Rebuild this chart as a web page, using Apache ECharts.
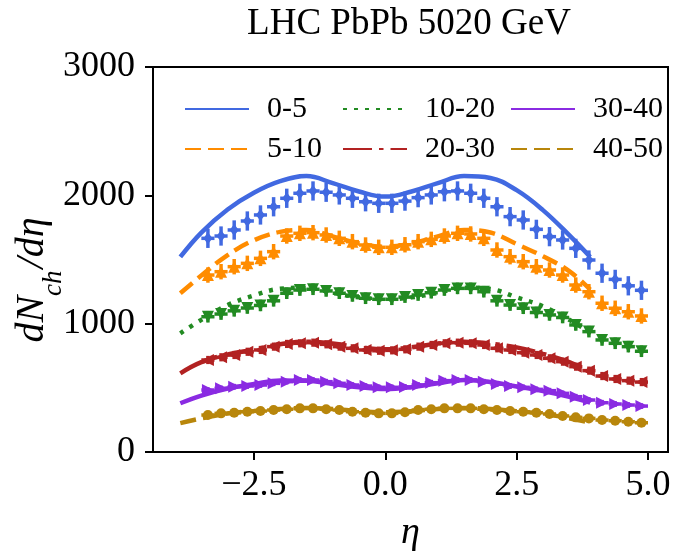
<!DOCTYPE html>
<html><head><meta charset="utf-8">
<script src="https://cdn.jsdelivr.net/npm/echarts@6/dist/echarts.min.js"></script>
<style>html,body{margin:0;padding:0;background:#fff}#c{width:676px;height:551px}</style>
</head><body><div id="c"></div>
<script>
// ---------- data ----------
const centralities = ['0-5', '5-10', '10-20', '20-30', '30-40', '40-50'];
const etaData = [-3.375, -3.125, -2.875, -2.625, -2.375, -2.125, -1.875, -1.625, -1.375, -1.125, -0.875, -0.625, -0.375, -0.125,
  0.125, 0.375, 0.625, 0.875, 1.125, 1.375, 1.625, 1.875, 2.125, 2.375, 2.625, 2.875, 3.125, 3.375, 3.625, 3.875, 4.125, 4.375, 4.625, 4.875];
const etaModel = [-3.9, -3.5, -3.0, -2.5, -2.0, -1.5, -1.0, -0.5, 0, 0.5, 1.0, 1.5, 2.0, 2.5, 3.0, 3.5, 3.9];

const data_0_5 = [1665, 1683, 1730, 1800, 1847, 1911, 1977, 2016, 2034, 2024, 2003, 1977, 1950, 1938,
  1938, 1955, 1982, 2003, 2028, 2034, 2016, 1977, 1911, 1834, 1808, 1735, 1678, 1652, 1587, 1496, 1393, 1345, 1295, 1260];
const data_5_10 = [1379, 1405, 1444, 1470, 1509, 1561, 1683, 1704, 1709, 1691, 1665, 1639, 1613, 1595,
  1595, 1615, 1639, 1657, 1683, 1704, 1699, 1665, 1574, 1522, 1483, 1444, 1418, 1379, 1301, 1249, 1159, 1120, 1093, 1060];
const data_10_20 = [1054, 1075, 1100, 1122, 1142, 1178, 1237, 1262, 1268, 1255, 1237, 1216, 1198, 1190,
  1190, 1207, 1223, 1241, 1262, 1275, 1275, 1249, 1178, 1145, 1120, 1087, 1068, 1048, 990, 938, 873, 847, 821, 785];
const data_20_30 = [717, 738, 756, 781, 795, 821, 842, 847, 852, 839, 821, 808, 795, 789,
  792, 800, 821, 834, 847, 852, 847, 834, 808, 795, 774, 756, 730, 704, 665, 634, 592, 569, 556, 545];
const data_30_40 = [483, 496, 509, 514, 522, 535, 548, 561, 561, 548, 535, 522, 514, 504,
  504, 507, 522, 540, 556, 561, 561, 548, 530, 514, 504, 488, 478, 457, 431, 405, 384, 374, 366, 358];
const data_40_50 = [288, 301, 306, 314, 319, 327, 333, 340, 340, 333, 327, 314, 306, 301,
  301, 310, 327, 333, 340, 340, 340, 333, 327, 319, 314, 306, 296, 281, 270, 262, 249, 244, 236, 228];

const model_0_5 = [1520, 1710, 1890, 2020, 2110, 2150, 2095, 2030, 1990, 2030, 2095, 2150, 2135, 2040, 1885, 1690, 1520];
const model_5_10 = [1237, 1375, 1535, 1650, 1715, 1730, 1680, 1625, 1600, 1625, 1680, 1730, 1710, 1620, 1525, 1410, 1265];
const model_10_20 = [925, 1030, 1145, 1220, 1272, 1280, 1240, 1205, 1190, 1205, 1240, 1280, 1270, 1205, 1135, 1030, 930];
const model_20_30 = [613, 700, 760, 798, 840, 860, 845, 815, 800, 815, 845, 860, 845, 815, 765, 700, 620];
const model_30_40 = [380, 440, 495, 530, 558, 555, 530, 505, 490, 505, 535, 561, 545, 510, 475, 430, 385];
const model_40_50 = [225, 262, 300, 320, 335, 342, 335, 318, 310, 318, 335, 342, 335, 318, 298, 262, 228];

const yErr = [75, 60, 45, 32, 22, 16];   // half-height of vertical error bars
const xErr = 0.125;                       // half-width of eta bins
const xTicks = [-2.5, 0, 2.5, 5.0];
const yTicks = [0, 1000, 2000, 3000];

const dataSets = [data_0_5, data_5_10, data_10_20, data_20_30, data_30_40, data_40_50];
const modelSets = [model_0_5, model_5_10, model_10_20, model_20_30, model_30_40, model_40_50];

// ---------- styles ----------
const colors = ['#4169E1', '#FF8C00', '#228B22', '#B22222', '#8A2BE2', '#B8860B'];
const lineTypes = ['solid', [16, 7], [4, 7], [29, 7, 4.5, 7], 'solid', [16, 7]];
const symbols = ['diamond', 'triangle', 'triangle', 'triangle', 'triangle', 'circle'];
const symRot = [0, 0, 180, 90, -90, 0];
const symSize = [[9, 12], 12, 12, 12, 12, 10];
const SERIF = 'Liberation Serif';

function errRender(err, color) {
  return function (params, api) {
    const x = api.value(0), y = api.value(1);
    const t = api.coord([x, y + err]), b = api.coord([x, y - err]);
    const l = api.coord([x - xErr, y]), r = api.coord([x + xErr, y]);
    return {
      type: 'group', children: [
        { type: 'line', shape: { x1: t[0], y1: t[1], x2: b[0], y2: b[1] }, style: { stroke: color, lineWidth: 3.5 } },
        { type: 'line', shape: { x1: l[0], y1: l[1], x2: r[0], y2: r[1] }, style: { stroke: color, lineWidth: 3.5 } }
      ]
    };
  };
}

const series = [];
centralities.forEach((c, i) => {
  series.push({
    name: c, type: 'line', smooth: 0.4, symbol: 'none', z: 2,
    data: etaModel.map((e, k) => [e, modelSets[i][k]]),
    lineStyle: { color: colors[i], width: 4.5, type: lineTypes[i], cap: 'butt' },
    itemStyle: { color: colors[i] }
  });
});
centralities.forEach((c, i) => {
  series.push({
    name: 'err ' + c, type: 'custom', z: 3, clip: true,
    renderItem: errRender(yErr[i], colors[i]),
    encode: { x: 0, y: 1 },
    data: etaData.map((e, k) => [e, dataSets[i][k]])
  });
  series.push({
    name: 'data ' + c, type: 'scatter', z: 4,
    symbol: symbols[i], symbolRotate: symRot[i], symbolSize: symSize[i],
    itemStyle: { color: colors[i], opacity: 1 },
    data: etaData.map((e, k) => [e, dataSets[i][k]])
  });
});

const legendCommon = {
  orient: 'vertical', top: 89, itemWidth: 64, itemHeight: 14, itemGap: 10,
  selectedMode: false,
  itemStyle: { color: 'rgba(0,0,0,0)', borderWidth: 0, opacity: 0 },
  textStyle: { fontFamily: SERIF, fontSize: 30, color: '#000', padding: [0, 0, 0, 13], lineHeight: 30 }
};

const richY = {
  i: { fontFamily: SERIF, fontStyle: 'italic', fontSize: 40, fill: '#000', color: '#000', lineHeight: 46, verticalAlign: 'middle' },
  s: { fontFamily: SERIF, fontStyle: 'italic', fontSize: 27, fill: '#000', color: '#000', lineHeight: 46, verticalAlign: 'bottom', padding: [0, 2, -12, 0] }
};

const option = {
  animation: false,
  backgroundColor: '#fff',
  title: {
    text: 'LHC PbPb 5020 GeV', left: 404, top: 1, textAlign: 'center',
    textStyle: { fontFamily: SERIF, fontSize: 37, fontWeight: 'normal', color: '#000' }
  },
  legend: [
    Object.assign({}, legendCommon, { left: 179, data: [centralities[0], centralities[1]] }),
    Object.assign({}, legendCommon, { left: 337, data: [centralities[2], centralities[3]] }),
    Object.assign({}, legendCommon, { left: 505, data: [centralities[4], centralities[5]] })
  ],
  grid: {
    left: 153, right: 8, top: 67, bottom: 99, show: true, borderColor: '#000', borderWidth: 2,
    backgroundColor: 'transparent', containLabel: false, outerBoundsMode: 'none'
  },
  xAxis: {
    type: 'value', min: -4.42, max: 5.38,
    name: 'η', nameLocation: 'middle', nameGap: 62,
    nameTextStyle: { fontFamily: SERIF, fontStyle: 'italic', fontSize: 38, color: '#000' },
    axisLine: { show: true, onZero: false, lineStyle: { color: '#000', width: 2 } },
    axisTick: { show: true, length: 8, customValues: xTicks, lineStyle: { color: '#000', width: 2 } },
    axisLabel: {
      customValues: xTicks, margin: 16, fontFamily: SERIF, fontSize: 36, color: '#000',
      formatter: v => (v < 0 ? '\u2212' : '') + Math.abs(v).toFixed(1)
    },
    splitLine: { show: false }
  },
  yAxis: {
    type: 'value', min: yTicks[0], max: yTicks[yTicks.length - 1], interval: 1000,
    axisLine: { show: true, onZero: false, lineStyle: { color: '#000', width: 2 } },
    axisTick: { show: true, length: 8, lineStyle: { color: '#000', width: 2 } },
    axisLabel: { margin: 18, fontFamily: SERIF, fontSize: 36, color: '#000', formatter: v => String(v) },
    splitLine: { show: false }
  },
  graphic: [{
    type: 'text', x: 32, y: 280, rotation: Math.PI / 2,
    style: { text: '{i|dN}{s|ch}{i|/dη}', rich: richY, align: 'center', verticalAlign: 'middle', fill: '#000' }
  }],
  series: series
};

const chart = echarts.init(document.getElementById('c'), null, { renderer: 'canvas' });
chart.setOption(option);
</script>
</body></html>
